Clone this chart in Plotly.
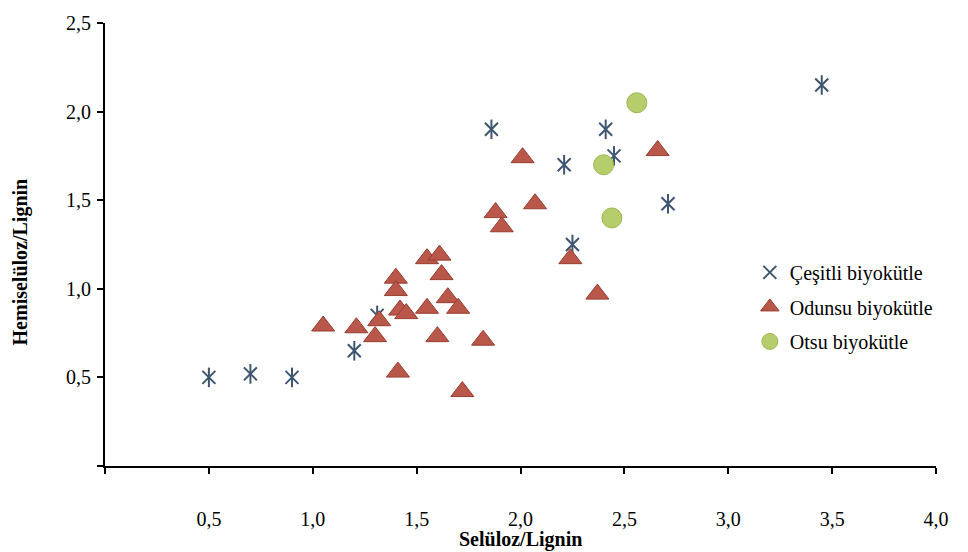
import plotly.graph_objects as go

# Çeşitli biyokütle (asterisks)
cesitli_x = [0.5, 0.70, 0.9, 1.2, 1.31, 1.86, 2.21, 2.41, 2.45, 2.25, 2.71, 3.45]
cesitli_y = [0.5, 0.52, 0.5, 0.65, 0.85, 1.90, 1.70, 1.90, 1.75, 1.25, 1.48, 2.15]

# Odunsu biyokütle (triangles)
odunsu_x = [1.05, 1.21, 1.32, 1.30, 1.40, 1.40, 1.42, 1.45, 1.55, 1.61, 1.62, 1.55, 1.65,
            1.70, 1.60, 1.41, 1.72, 1.82, 2.01, 2.66, 2.07, 1.88, 1.91, 2.24, 2.37]
odunsu_y = [0.79, 0.78, 0.82, 0.73, 1.06, 0.99, 0.88, 0.86, 1.17, 1.19, 1.08, 0.89, 0.95,
            0.89, 0.73, 0.53, 0.42, 0.71, 1.74, 1.78, 1.48, 1.43, 1.35, 1.17, 0.97]

# Otsu biyokütle (circles)
otsu_x = [2.56, 2.40, 2.44]
otsu_y = [2.05, 1.70, 1.40]

x_tickvals = [0, 0.5, 1.0, 1.5, 2.0, 2.5, 3.0, 3.5, 4.0]
x_ticktext = ["", "0,5", "1,0", "1,5", "2,0", "2,5", "3,0", "3,5", "4,0"]
y_tickvals = [0, 0.5, 1.0, 1.5, 2.0, 2.5]
y_ticktext = ["", "0,5", "1,0", "1,5", "2,0", "2,5"]

FONT = "Liberation Serif"
BLUE = "#3e566f"

fig = go.Figure()
fig.add_trace(go.Scatter(
    x=cesitli_x, y=cesitli_y, mode="markers", name="Çeşitli biyokütle",
    legendgroup="a",
    marker=dict(symbol="x-thin-open", size=13, color=BLUE, line=dict(color=BLUE, width=2)),
))
fig.add_trace(go.Scatter(
    x=cesitli_x, y=cesitli_y, mode="markers", name="Çeşitli biyokütle",
    legendgroup="a", showlegend=False,
    marker=dict(symbol="line-ns-open", size=14, color=BLUE, line=dict(color=BLUE, width=2)),
))
fig.add_trace(go.Scatter(
    x=odunsu_x, y=odunsu_y, mode="markers", name="Odunsu biyokütle",
    legendgroup="b",
    marker=dict(symbol="triangle-up", size=20, color="#b9584a",
                line=dict(color="#983d30", width=1)),
))
fig.add_trace(go.Scatter(
    x=otsu_x, y=otsu_y, mode="markers", name="Otsu biyokütle",
    legendgroup="c",
    marker=dict(symbol="circle", size=20, color="#b6cd6b",
                line=dict(color="#9db553", width=1)),
))

axis_common = dict(
    showgrid=False, zeroline=False, showline=True, linecolor="black", linewidth=2,
    ticks="outside", ticklen=6, tickwidth=2, tickcolor="black",
    tickfont=dict(family=FONT, size=20, color="black"),
)
fig.update_xaxes(range=[0, 4.0], tickvals=x_tickvals, ticktext=x_ticktext,
                 ticklabelstandoff=28, **axis_common)
fig.update_yaxes(range=[0, 2.5], tickvals=y_tickvals, ticktext=y_ticktext,
                 ticklabelstandoff=2, **axis_common)

fig.update_layout(
    width=968, height=552,
    margin=dict(l=105, r=32, t=14, b=85.5),
    paper_bgcolor="white", plot_bgcolor="white",
    showlegend=True,
    legend=dict(x=0.776, y=0.481, xanchor="left", yanchor="top",
                font=dict(family=FONT, size=20, color="black"),
                traceorder="grouped", tracegroupgap=5.5,
                bgcolor="rgba(0,0,0,0)"),
    annotations=[
        dict(text="<b>Selüloz/Lignin</b>", xref="paper", yref="paper",
             x=0.5, y=-0.165, xanchor="center", yanchor="middle", showarrow=False,
             font=dict(family=FONT, size=20, color="black")),
        dict(text="<b>Hemiselüloz/Lignin</b>", xref="paper", yref="paper",
             x=-0.102, y=0.46, xanchor="center", yanchor="middle", showarrow=False,
             textangle=-90, font=dict(family=FONT, size=20, color="black")),
    ],
)

fig.write_html("out.html")
